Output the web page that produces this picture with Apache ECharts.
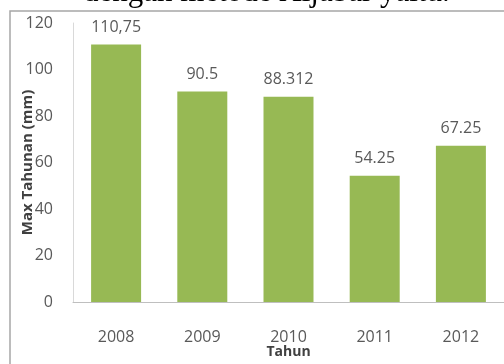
<!DOCTYPE html>
<html>
<head>
<meta charset="utf-8">
<script src="https://cdn.jsdelivr.net/npm/echarts@6/dist/echarts.min.js"></script>
<style>
  html, body { margin: 0; padding: 0; background: #fff; }
  #chart { width: 504px; height: 364px; }
</style>
</head>
<body>
<div id="chart"></div>
<script>
// data
var tahun = ['2008', '2009', '2010', '2011', '2012'];
var maxTahunan = [110.75, 90.5, 88.312, 54.25, 67.25];
var labelText = ['110,75', '90.5', '88.312', '54.25', '67.25'];

var font = '"Open Sans", "Liberation Sans", sans-serif';
var chart = echarts.init(document.getElementById('chart'));

var option = {
  animation: false,
  backgroundColor: '#fff',
  grid: { left: 73, top: 23, width: 437, bottom: 61, containLabel: false },
  graphic: [
    // figure frame
    {
      type: 'rect', shape: { x: 10, y: 11, width: 520, height: 380 },
      style: { fill: '#fff', stroke: '#a6a6a6', lineWidth: 1.5 },
      z: -1
    },
    // cut-off line of text above the figure
    {
      type: 'text', left: 83, top: -23,
      style: { text: 'dengan metode Aljabar yaitu.', font: '31px "Liberation Serif", serif', fill: '#000' }
    }
  ],
  xAxis: {
    type: 'category',
    data: tahun,
    name: 'Tahun',
    nameLocation: 'middle',
    nameGap: 43,
    nameMoveOverlap: false,
    nameTextStyle: { fontFamily: font, fontWeight: 'bold', fontSize: 14, color: '#404040' },
    axisLine: { lineStyle: { color: '#bfbfbf' } },
    axisTick: { show: false },
    axisLabel: { margin: 27, fontFamily: font, fontSize: 16, color: '#595959' }
  },
  yAxis: {
    type: 'value',
    min: 0, max: 120, interval: 20,
    name: 'Max Tahunan (mm)',
    nameLocation: 'middle',
    nameGap: 38,
    nameMoveOverlap: false,
    nameTextStyle: { fontFamily: font, fontWeight: 'bold', fontSize: 15, color: '#404040' },
    axisLine: { show: true, lineStyle: { color: '#d9d9d9' } },
    axisTick: { show: false },
    splitLine: { show: false },
    axisLabel: { margin: 20, fontFamily: font, fontSize: 16, color: '#595959' }
  },
  series: [{
    type: 'bar',
    data: maxTahunan,
    barWidth: '58%',
    itemStyle: { color: '#97b954' },
    label: {
      show: true, position: 'top', distance: 9,
      fontFamily: font, fontSize: 16, color: '#595959',
      formatter: function (p) { return labelText[p.dataIndex]; }
    }
  }]
};

chart.setOption(option);
</script>
</body>
</html>
